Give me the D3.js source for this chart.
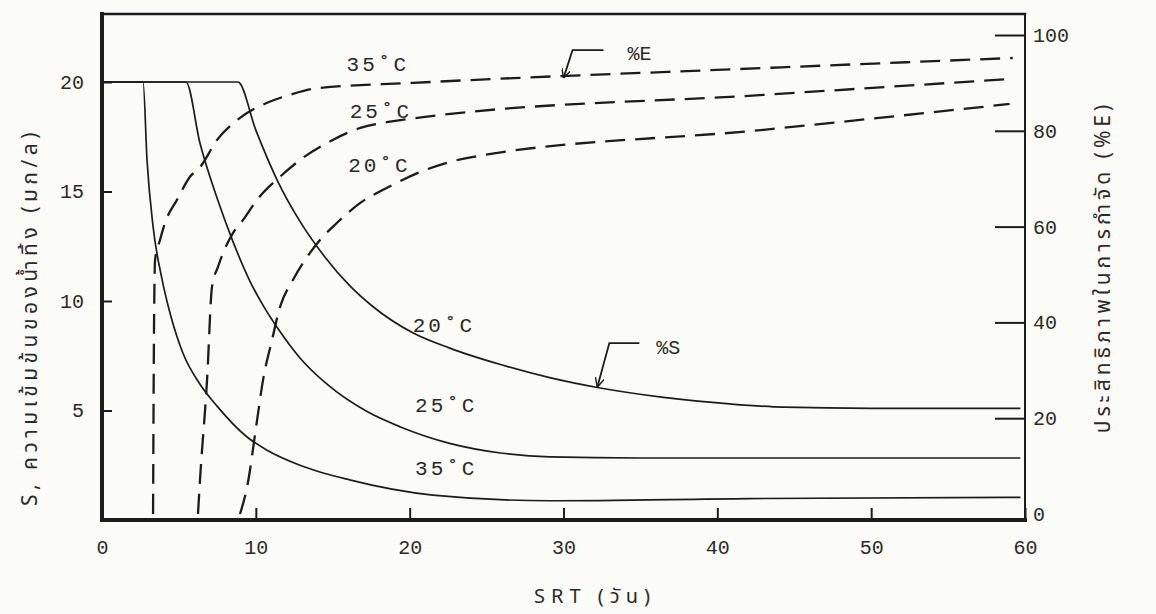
<!DOCTYPE html>
<html>
<head>
<meta charset="utf-8">
<script src="https://cdn.jsdelivr.net/npm/d3@7/dist/d3.min.js"></script>
<style>
  body { margin: 0; background: #fbfbf8; }
  svg { display: block; }
  text { fill: #2a2a2a; font-family: 'Liberation Mono', 'DejaVu Sans Mono', monospace; }
  .thai { font-family: 'Tlwg Typist', 'Noto Sans Thai', 'Loma', 'Garuda', 'Noto Sans', sans-serif; }
</style>
</head>
<body>
<div id="chart"></div>
<script>
// effluent S (mg/l) vs SRT (days)
var srtS20 = [0, 8.84, 10.0, 11.4, 12.9, 14.5, 16.1, 17.6, 20.2, 22.6, 25.9, 29.1, 32.2, 36.5, 40.8, 44.3, 50, 59.7]
var s20 = [20, 20, 17.8, 15.5, 13.6, 12.0, 10.7, 9.75, 8.55, 7.85, 7.1, 6.5, 6.05, 5.6, 5.3, 5.15, 5.1, 5.1]
var srtS25 = [0, 5.46, 6.37, 7.48, 8.52, 9.62, 10.47, 11.38, 12.87, 14.63, 17.23, 19.4, 22.6, 25.9, 29.1, 35, 59.7]
var s25 = [20, 20, 17.2, 14.7, 12.7, 10.9, 9.8, 8.8, 7.4, 6.2, 4.95, 4.25, 3.5, 3.06, 2.88, 2.83, 2.83]
var srtS35 = [0, 2.67, 2.93, 3.32, 3.9, 4.42, 5.27, 6.37, 7.48, 9.43, 10.7, 12.87, 16.1, 21.5, 29.1, 42.1, 59.7]
var s35 = [20, 20, 16.4, 13.4, 11.0, 9.45, 7.6, 6.2, 5.2, 3.79, 3.2, 2.5, 1.83, 1.14, 0.88, 0.98, 1.03]

// removal efficiency %E vs SRT (days)
var srtE20 = [8.97, 9.43, 10.08, 10.47, 11.05, 11.57, 12.42, 13.52, 14.17, 15.28, 16.77, 18.53, 21.0, 23.7, 43.0, 59.0]
var e20 = [0, 5.6, 19.6, 28, 36.3, 43.2, 48.9, 54.5, 57.2, 60.8, 64.9, 68.1, 71.8, 74.3, 80.2, 85.6]
var srtE25 = [6.24, 6.37, 6.83, 7.15, 7.54, 8.52, 9.17, 10.08, 11.57, 12.87, 15.0, 16.8, 18.5, 21.0, 43.0, 59.0]
var e25 = [0, 7.1, 28, 47.4, 51.6, 58.7, 61.4, 65.6, 70.4, 73.9, 78.1, 80.6, 81.8, 82.9, 87.5, 90.8]
var srtE35 = [3.32, 3.38, 3.45, 3.77, 4.1, 4.88, 5.72, 6.37, 7.48, 8.97, 10.7, 12.2, 14.0, 20.2, 43.0, 59.2]
var e35 = [0, 38.4, 53, 57.2, 60.8, 65.6, 70.4, 72.4, 78.1, 82.7, 85.8, 87.5, 88.9, 90.0, 93.1, 95.2]

var xTicks = [0, 10, 20, 30, 40, 50, 60]
var sTicks = [5, 10, 15, 20]
var eTicks = [0, 20, 40, 60, 80, 100]
var temps = ['20˚C', '25˚C', '35˚C']

var xTitle = 'SRT (วัน)'
var sTitle = 'S, ความเข้มข้นของน้ำทิ้ง (มก/ล)'
var eTitle = 'ประสิทธิภาพในการกำจัด (%E)'

drawChart()

function zip(a, b) {
  return a.map((v, i) => [v, b[i]])
}

function drawChart() {
  const width = 1156
  const height = 614

  var svg = d3.select('#chart')
    .append('svg')
    .attr('width', width)
    .attr('height', height)

  var xScale = d3.scaleLinear().domain([0, 60]).range([102, 1025])
  var sScale = d3.scaleLinear().domain([0, 20]).range([520, 82])
  var eScale = d3.scaleLinear().domain([0, 100]).range([514, 35])
  var sTop = sScale.invert(14)

  svg.append('defs').append('marker')
    .attr('id', 'arrow')
    .attr('viewBox', '0 0 10 10')
    .attr('refX', 10).attr('refY', 5)
    .attr('markerWidth', 9).attr('markerHeight', 9)
    .attr('markerUnits', 'userSpaceOnUse')
    .attr('orient', 'auto')
    .append('path')
    .attr('d', 'M0,0 L10,5 L0,10')
    .attr('fill', 'none')
    .attr('stroke', '#1c1c1c')
    .attr('stroke-width', 1.6)

  // frame
  var frame = svg.append('g').attr('stroke', '#1c1c1c').attr('stroke-linecap', 'square')
  frame.append('line')
    .attr('x1', xScale(0)).attr('x2', xScale(60))
    .attr('y1', sScale(sTop)).attr('y2', sScale(sTop))
    .attr('stroke-width', 2.5)
  frame.append('line')
    .attr('x1', xScale(0)).attr('x2', xScale(60))
    .attr('y1', sScale(0)).attr('y2', sScale(0))
    .attr('stroke-width', 4)
  frame.append('line')
    .attr('x1', xScale(0)).attr('x2', xScale(0))
    .attr('y1', sScale(sTop)).attr('y2', sScale(0))
    .attr('stroke-width', 4)
  frame.append('line')
    .attr('x1', xScale(60)).attr('x2', xScale(60))
    .attr('y1', sScale(sTop)).attr('y2', sScale(0))
    .attr('stroke-width', 2)

  // axes
  var xAxis = d3.axisBottom(xScale).tickValues(xTicks).tickSize(-12).tickPadding(20)
  var sAxis = d3.axisLeft(sScale).tickValues(sTicks).tickSize(-10).tickPadding(18)
  var eAxis = d3.axisRight(eScale).tickValues(eTicks).tickSize(-30).tickPadding(8)

  svg.append('g')
    .attr('transform', 'translate(0,' + sScale(0) + ')')
    .call(xAxis)
  svg.append('g')
    .attr('transform', 'translate(' + xScale(0) + ',0)')
    .call(sAxis)
  var eG = svg.append('g')
    .attr('transform', 'translate(' + xScale(60) + ',0)')
    .call(eAxis)
  // no tick mark at 0 %, only the label
  eG.selectAll('.tick').filter(d => d === 0).select('line').remove()

  svg.selectAll('.domain').remove()
  svg.selectAll('.tick line').attr('stroke', '#1c1c1c').attr('stroke-width', 2)
  svg.selectAll('.tick text').attr('fill', '#2a2a2a').style('font-size', '20px')
    .style('font-family', "'Liberation Mono', monospace")

  // S curves (solid)
  var sLine = d3.line()
    .x(d => xScale(d[0]))
    .y(d => sScale(d[1]))
    .curve(d3.curveMonotoneX)
  var sSeries = [zip(srtS20, s20), zip(srtS25, s25), zip(srtS35, s35)]
  svg.append('g').selectAll('path')
    .data(sSeries)
    .join('path')
    .attr('d', sLine)
    .attr('fill', 'none')
    .attr('stroke', '#1c1c1c')
    .attr('stroke-width', 1.7)

  // %E curves (dashed)
  var eLine = d3.line()
    .x(d => xScale(d[0]))
    .y(d => eScale(d[1]))
    .curve(d3.curveMonotoneX)
  var eSeries = [zip(srtE20, e20), zip(srtE25, e25), zip(srtE35, e35)]
  svg.append('g').selectAll('path')
    .data(eSeries)
    .join('path')
    .attr('d', eLine)
    .attr('fill', 'none')
    .attr('stroke', '#1c1c1c')
    .attr('stroke-width', 2.3)
    .attr('stroke-dasharray', '20,10')

  // temperature labels
  var eLabels = [[temps[2], 15.9, 94], [temps[1], 16.1, 84.3], [temps[0], 16.0, 72.9]]
  var sLabels = [[temps[0], 20.2, 8.9], [temps[1], 20.35, 5.25], [temps[2], 20.35, 2.37]]
  svg.append('g').selectAll('text')
    .data(eLabels)
    .join('text')
    .attr('x', d => xScale(d[1]))
    .attr('y', d => eScale(d[2]))
    .attr('dy', '0.35em')
    .style('font-size', '21px')
    .style('letter-spacing', '3px')
    .text(d => d[0])
  svg.append('g').selectAll('text')
    .data(sLabels)
    .join('text')
    .attr('x', d => xScale(d[1]))
    .attr('y', d => sScale(d[2]))
    .attr('dy', '0.35em')
    .style('font-size', '21px')
    .style('letter-spacing', '3px')
    .text(d => d[0])

  // pointers to the %E and %S curves
  var eTip = [xScale(30), eScale(91)]
  var sTip = [xScale(32.2), sScale(6.07)]
  svg.append('path')
    .attr('d', 'M' + (eTip[0] + 40) + ',' + (eTip[1] - 28) + 'L' + (eTip[0] + 9) + ',' + (eTip[1] - 28) + 'L' + eTip[0] + ',' + eTip[1])
    .attr('fill', 'none').attr('stroke', '#1c1c1c').attr('stroke-width', 1.8)
    .attr('marker-end', 'url(#arrow)')
  svg.append('text')
    .attr('x', eTip[0] + 64).attr('y', eTip[1] - 25).attr('dy', '0.35em')
    .style('font-size', '20px')
    .text('%E')
  svg.append('path')
    .attr('d', 'M' + (sTip[0] + 42) + ',' + (sTip[1] - 44) + 'L' + (sTip[0] + 12) + ',' + (sTip[1] - 44) + 'L' + sTip[0] + ',' + sTip[1])
    .attr('fill', 'none').attr('stroke', '#1c1c1c').attr('stroke-width', 1.8)
    .attr('marker-end', 'url(#arrow)')
  svg.append('text')
    .attr('x', sTip[0] + 59).attr('y', sTip[1] - 40).attr('dy', '0.35em')
    .style('font-size', '20px')
    .text('%S')

  // axis titles
  svg.append('text')
    .attr('class', 'thai')
    .attr('text-anchor', 'middle')
    .attr('transform', 'translate(595,596)')
    .attr('dy', '0.35em')
    .style('font-size', '20px')
    .style('letter-spacing', '6px')
    .text(xTitle)
  svg.append('text')
    .attr('class', 'thai')
    .attr('text-anchor', 'middle')
    .attr('transform', 'translate(30,317) rotate(-90)')
    .attr('dy', '0.35em')
    .style('font-size', '21px')
    .style('letter-spacing', '4.5px')
    .text(sTitle)
  svg.append('text')
    .attr('class', 'thai')
    .attr('text-anchor', 'middle')
    .attr('transform', 'translate(1103,267) rotate(-90)')
    .attr('dy', '0.35em')
    .style('font-size', '21px')
    .style('letter-spacing', '4px')
    .text(eTitle)
}
</script>
</body>
</html>
